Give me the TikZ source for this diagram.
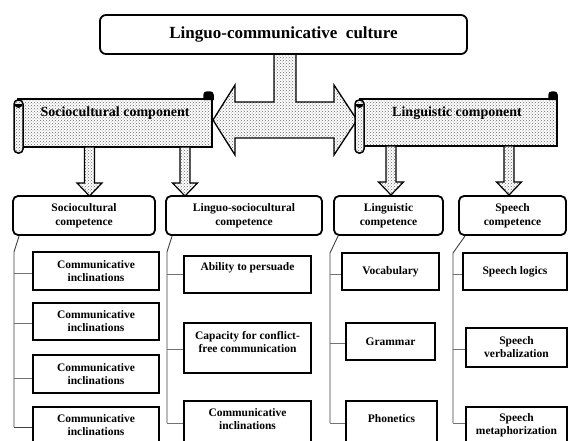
\documentclass[tikz,border=0pt]{standalone}
\usepackage{fontspec}
\setmainfont{Liberation Serif}
\usetikzlibrary{patterns,calc}
\tikzset{
  dotfill/.style={preaction={fill=white}, pattern=crosshatch dots, pattern color=black!60},
  topbox/.style={draw, line width=1.8pt, rounded corners=6pt, inner sep=0pt,
    font=\fontsize{17}{20}\selectfont\bfseries},
  compbox/.style={draw, line width=1.8pt, rounded corners=5pt, inner sep=0pt, align=center,
    font=\fontsize{11.5}{14}\selectfont\bfseries},
  leaf/.style={draw, line width=1.3pt, inner sep=0pt, align=center,
    font=\fontsize{11.5}{13}\selectfont\bfseries},
  leaftext/.style={inner sep=0pt, align=center, font=\fontsize{11.5}{13}\selectfont\bfseries},
  scrollbody/.style={draw, line width=1.5pt, dotfill, inner sep=0pt},
  scrolltext/.style={inner sep=0pt, font=\fontsize{14}{16}\selectfont\bfseries},
  trunk/.style={draw=black!75, line width=0.9pt},
  branch/.style={draw=black!55, line width=0.8pt},
  dnarr/.pic={\draw[dotfill, line width=1.2pt] (-5,0) -- (5,0) -- (5,36) -- (12.5,36) -- (0,49) -- (-12.5,36) -- (-5,36) -- cycle;}
}
\begin{document}
\begin{tikzpicture}[x=1pt,y=-1pt]
\useasboundingbox (0,0) rectangle (568,440);
\clip (0,0) rectangle (568,440);
\fill[white] (0,0) rectangle (568,440);

% big T-shaped double arrow
\draw[dotfill, line width=1.3pt] (274,50) -- (274,102) -- (235,102) -- (235,85) -- (213,120)
  -- (235,155) -- (235,138) -- (334,138) -- (334,155) -- (357,120) -- (334,85) -- (334,102)
  -- (296,102) -- (296,50);

% top box
\node[topbox, fill=white, minimum width=367pt, minimum height=39pt] (top) at (283.5,34.5)
  {Linguo-communicative\ \ culture};

% left scroll
\node[scrollbody, minimum width=194pt, minimum height=48pt] (scb) at (115,123) {};
\draw[line width=1.5pt, fill=black, rounded corners=3pt] (204,100) -- (204,92) -- (213,92) -- (213,100);
\draw[line width=1.5pt, dotfill, rounded corners=4pt] (14,100) rectangle (23,153);
\fill[black] (14.5,104) arc (180:0:4 and 4) -- cycle;
\node[scrolltext] (sct) at (115,113) {Sociocultural component};

% right scroll
\node[scrollbody, minimum width=197pt, minimum height=47pt] (lcb) at (458.5,122.5) {};
\draw[line width=1.5pt, fill=black, rounded corners=3pt] (549,100) -- (549,92) -- (557,92) -- (557,100);
\draw[line width=1.5pt, dotfill, rounded corners=4pt] (355,100) rectangle (364,153);
\fill[black] (355.5,104) arc (180:0:4 and 4) -- cycle;
\node[scrolltext] (lct) at (457,113) {Linguistic component};

% down arrows
\pic at (89.5,147) {dnarr};
\pic at (185,147) {dnarr};
\pic at (391,146) {dnarr};
\pic at (509,146) {dnarr};

% second row
\node[compbox, minimum width=142pt, minimum height=39pt] (b1) at (84,215.5) {Sociocultural\\competence};
\node[compbox, minimum width=156pt, minimum height=39pt] (b2) at (244,215.5) {Linguo-sociocultural\\competence};
\node[compbox, minimum width=109pt, minimum height=39pt] (b3) at (388.5,215.5) {Linguistic\\competence};
\node[compbox, minimum width=107pt, minimum height=39pt] (b4) at (512.5,215.5) {Speech\\competence};

% column 1 leaves
\node[leaf, minimum width=126pt, minimum height=38pt] (l11) at (96,271) {Communicative\\inclinations};
\node[leaf, minimum width=126pt, minimum height=37pt] (l12) at (96,321.5) {Communicative\\inclinations};
\node[leaf, minimum width=126pt, minimum height=38pt] (l13) at (96,374) {Communicative\\inclinations};
\node[leaf, minimum width=126pt, minimum height=40pt] (l14) at (96,427) {};
\node[leaftext] (t14) at (96,425.5) {Communicative\\inclinations};

% column 2 leaves
\node[leaf, minimum width=127pt, minimum height=37pt] (l21) at (247.5,274.5) {};
\node[leaftext] (t21) at (247.5,268) {Ability to persuade};
\node[leaf, minimum width=127pt, minimum height=50pt] (l22) at (247.5,348) {};
\node[leaftext] (t22) at (247.5,342.5) {Capacity for conflict-\\free communication};
\node[leaf, minimum width=127pt, minimum height=44pt] (l23) at (247.5,423) {};
\node[leaftext] (t23) at (247.5,419.5) {Communicative\\inclinations};

% column 3 leaves
\node[leaf, minimum width=97pt, minimum height=37pt] (l31) at (390.5,271.5) {Vocabulary};
\node[leaf, minimum width=89pt, minimum height=37pt] (l32) at (390.5,341.5) {Grammar};
\node[leaf, minimum width=91pt, minimum height=44pt] (l33) at (391.5,423) {};
\node[leaftext] (t33) at (391.5,419) {Phonetics};

% column 4 leaves
\node[leaf, minimum width=104pt, minimum height=37pt] (l41) at (515,271.5) {Speech logics};
\node[leaf, minimum width=101pt, minimum height=39pt] (l42) at (516.5,347.5) {Speech\\verbalization};
\node[leaf, minimum width=101pt, minimum height=41pt] (l43) at (516.5,427.5) {};
\node[leaftext] (t43) at (516.5,425.5) {Speech\\metaphorization};

% trunks
\coordinate (k1) at (14,252);  \coordinate (e1) at (14,427);
\coordinate (k2) at (167,252); \coordinate (e2) at (167,423);
\coordinate (k3) at (330,253); \coordinate (e3) at (330,423);
\coordinate (k4) at (453,253); \coordinate (e4) at (453,423);
\draw[trunk] ($(b1.south west)+(7,0)$) -- (k1) -- (e1);
\draw[trunk] ($(b2.south west)+(7,0)$) -- (k2) -- (e2);
\draw[trunk] ($(b3.south west)+(5,0)$) -- (k3) -- (e3);
\draw[trunk] ($(b4.south west)+(7,0)$) -- (k4) -- (e4);

% branches
\coordinate (s11) at (14,273); \coordinate (s12) at (14,323); \coordinate (s13) at (14,378);
\draw[branch] (s11) -- (s11 -| l11.west);
\draw[branch] (s12) -- (s12 -| l12.west);
\draw[branch] (s13) -- (s13 -| l13.west);
\draw[trunk] (e1) -- (e1 -| l14.west);
\coordinate (s21) at (167,274); \coordinate (s22) at (167,349);
\draw[branch] (s21) -- (s21 -| l21.west);
\draw[branch] (s22) -- (s22 -| l22.west);
\draw[branch] (e2) -- (e2 -| l23.west);
\coordinate (s31) at (330,274); \coordinate (s32) at (330,343);
\draw[branch] (s31) -- (s31 -| l31.west);
\draw[branch] (s32) -- (s32 -| l32.west);
\draw[branch] (e3) -- (e3 -| l33.west);
\coordinate (s41) at (453,274); \coordinate (s42) at (453,349);
\draw[branch] (s41) -- (s41 -| l41.west);
\draw[branch] (s42) -- (s42 -| l42.west);
\draw[branch] (e4) -- (e4 -| l43.west);
\end{tikzpicture}
\end{document}
